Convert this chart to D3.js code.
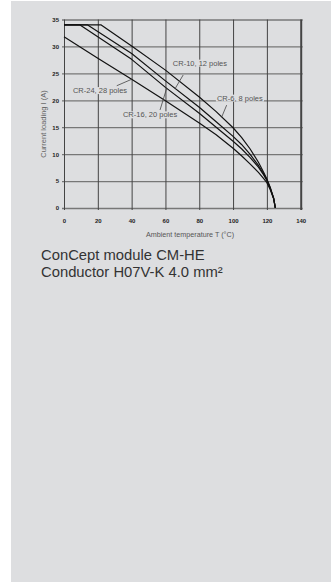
<!DOCTYPE html>
<html><head><meta charset="utf-8">
<script src="https://cdn.jsdelivr.net/npm/d3@7"></script>
<style>
html,body{margin:0;padding:0;background:#fff;}
svg{display:block;}
text{font-family:"Liberation Sans",Arial,Helvetica,sans-serif;}
</style></head>
<body>
<script>
// ---- data ----
const xTicks = [0, 20, 40, 60, 80, 100, 120, 140];
const yTicks = [0, 5, 10, 15, 20, 25, 30, 35];
const seriesNames = ["CR-6, 8 poles", "CR-10, 12 poles", "CR-16, 20 poles", "CR-24, 28 poles"];
const cr6  = [[0,34],[22,34],[40,30.1],[60,25.6],[80,20.6],[90,17.9],[100,14.9],[105,13.1],[110,11.0],[115,8.5],[118,6.7],[120,5.4],[122,3.8],[124,1.8],[125,0]];
const cr10 = [[0,34],[14,34],[40,28.7],[60,23.6],[80,18.7],[90,16.0],[100,13.3],[105,11.8],[110,10.0],[115,7.9],[118,6.4],[120,5.2],[122,3.7],[124,1.8],[125,0]];
const cr16 = [[0,34],[9.5,34],[40,27.6],[60,22.4],[80,17.6],[90,15.0],[100,12.4],[105,11.0],[110,9.4],[115,7.6],[118,6.2],[120,5.1],[122,3.6],[124,1.8],[125,0]];
const cr24 = [[0,31.8],[20,27.8],[40,23.9],[60,19.9],[80,15.8],[90,13.6],[100,11.1],[105,9.7],[110,8.2],[115,6.6],[118,5.5],[120,4.7],[122,3.4],[124,1.7],[125,0]];
// annotation anchors in data units: label centre, leader start, leader end
const labelPos   = [[104,20.4],[80.4,26.9],[50.9,17.3],[21.3,21.8]];
const leaderFrom = [[96.2,19.1],[70.5,24.7],[56.8,18.2],[31.2,22.7]];
const leaderTo   = [[93.3,16.9],[65.6,22.1],[60.7,22.2],[40,23.9]];
const xTitle = "Ambient temperature T (°C)";
const yTitle = "Current loading I (A)";
const caption = ["ConCept module CM-HE", "Conductor H07V-K 4.0 mm²"];

// ---- layout ----
const W = 331, H = 582, BG = "#dddee0";
const svg = d3.select("body").append("svg").attr("width", W).attr("height", H);
svg.append("rect").attr("x", 11).attr("y", 1).attr("width", W - 11).attr("height", H - 1).attr("fill", BG);

const x = d3.scaleLinear().domain([0, 140]).range([64, 300.7]);
const y = d3.scaleLinear().domain([0, 35]).range([208, 19.5]);

const g = svg.append("g");
// horizontal grid (as y axis ticks)
const yAxis = d3.axisLeft(y).tickValues(yTicks).tickSize(-(x(140) - x(0)) - 2).tickPadding(4);
const gy = g.append("g").attr("transform", `translate(${x(0) - 2},0)`).call(yAxis);
gy.select(".domain").remove();
gy.selectAll(".tick line").attr("transform", "translate(2,0)").attr("x1", -2)
  .attr("stroke", d => (d === 35 ? "#444" : "#777")).attr("stroke-width", d => (d === 35 ? 1 : 1.3));
gy.selectAll(".tick text").attr("x", -3).attr("font-size", 6).attr("font-weight", "bold")
  .attr("fill", "#222").attr("font-family", "Liberation Sans, Arial, sans-serif");

// vertical grid (as x axis ticks)
const xAxis = d3.axisBottom(x).tickValues(xTicks).tickSize(-(y(0) - y(35)) - 2).tickPadding(6);
const gx = g.append("g").attr("transform", `translate(0,${y(0) + 2})`).call(xAxis);
gx.select(".domain").remove();
gx.selectAll(".tick line").attr("stroke", "#444")
  .attr("stroke-width", d => (d === 140 ? 2 : 1));
gx.selectAll(".tick text").attr("y", 9).attr("font-size", 6).attr("font-weight", "bold")
  .attr("fill", "#222").attr("font-family", "Liberation Sans, Arial, sans-serif");

// curves
const line = d3.line().x(d => x(d[0])).y(d => y(d[1])).curve(d3.curveLinear);
const allSeries = [cr6, cr10, cr16, cr24];
g.selectAll("path.curve").data(allSeries).enter().append("path")
  .attr("class", "curve").attr("d", line).attr("fill", "none")
  .attr("stroke", "#111").attr("stroke-width", 1.2).attr("stroke-linejoin", "round");

// annotations
seriesNames.forEach((name, i) => {
  const t = g.append("text").attr("x", x(labelPos[i][0])).attr("y", y(labelPos[i][1]))
    .attr("text-anchor", "middle").attr("dominant-baseline", "central")
    .attr("font-size", 7.5).attr("fill", "#555").text(name);
  const bb = t.node().getBBox();
  g.insert("rect", () => t.node()).attr("x", bb.x - 1).attr("y", bb.y + 1)
    .attr("width", bb.width + 2).attr("height", bb.height - 2).attr("fill", BG);
  g.append("line").attr("x1", x(leaderFrom[i][0])).attr("y1", y(leaderFrom[i][1]))
    .attr("x2", x(leaderTo[i][0])).attr("y2", y(leaderTo[i][1]))
    .attr("stroke", "#444").attr("stroke-width", 0.8);
});

// axis titles
svg.append("text").attr("transform", `translate(46,124) rotate(-90)`)
  .attr("text-anchor", "middle").attr("font-size", 7.5).attr("fill", "#666").text(yTitle);
svg.append("text").attr("x", 190).attr("y", 236.5).attr("text-anchor", "middle")
  .attr("font-size", 7.2).attr("fill", "#555").text(xTitle);

// caption
caption.forEach((c, i) => {
  svg.append("text").attr("x", 41).attr("y", 259.5 + i * 17)
    .attr("font-size", 14.8).attr("fill", "#333").text(c);
});
</script>
</body></html>
